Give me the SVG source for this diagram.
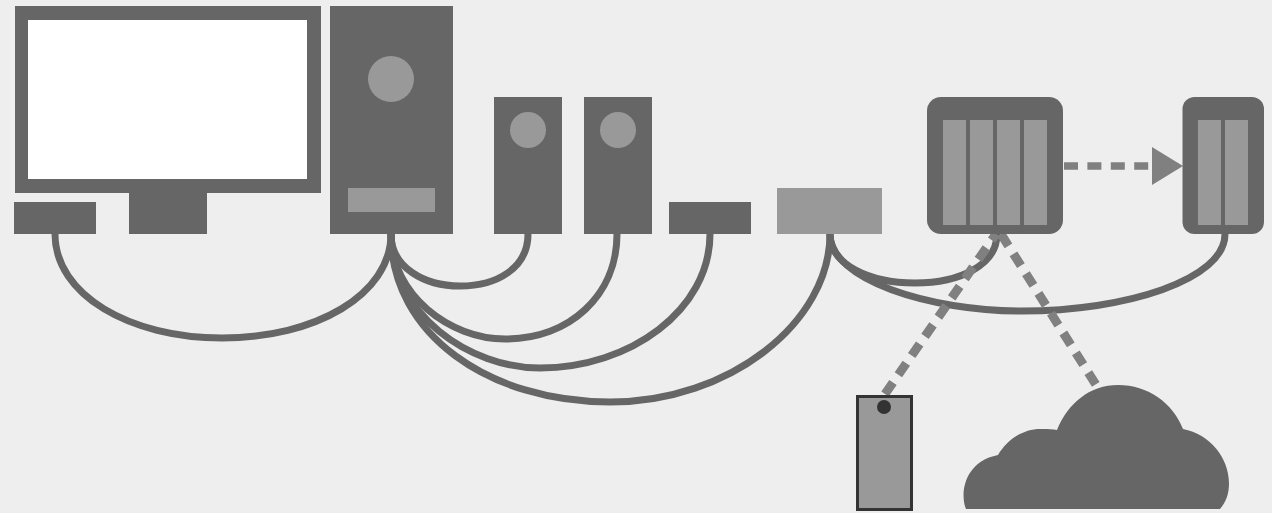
<svg xmlns="http://www.w3.org/2000/svg" width="1272" height="513" viewBox="0 0 1272 513">
<style>
.d{fill:#666}.l{fill:#999}.c{fill:none;stroke:#666;stroke-width:7;stroke-linecap:butt}.k{fill:none;stroke:#808080;stroke-width:9;stroke-dasharray:14 9.400}
</style>
<rect width="1272" height="513" fill="#eee"/>
<g id="connectors">
<path class="c" d="M55 234C55 295 130 338 222 338C315 338 391 295 391 234"/>
<path class="c" d="M391 234C391 268 425 286 460 286C497 286 528 268 528 234"/>
<path class="c" d="M391 234C391 295 450 339 505 339C570 339 617 295 617 234"/>
<path class="c" d="M391 234C391 315 470 368 540 368C630 368 710 310 710 234"/>
<path class="c" d="M391 234C391 335 490 402 610 402C730 402 830 322 830 234"/>
<path class="c" d="M830 234C830 265 870 283 915 283C960 283 997 265 997 234"/>
<path class="c" d="M830 234C830 280 930 311 1022 311C1125 311 1225 280 1225 234"/>
<path class="k" d="M885 394L996 234"/>
<path class="k" d="M1001 234L1098 388"/>
<path class="k" style="stroke-width:7.500" d="M1064 166H1149"/>
<path d="M1152 147L1183 166L1152 185Z" fill="#808080"/>
</g>
<g id="monitor"><rect x="15" y="6" width="306" height="187" class="d"/><rect x="28" y="20" width="279" height="159" fill="#fff"/><rect x="129" y="193" width="78" height="41" class="d"/></g>
<g id="keyboard"><rect x="14" y="202" width="82" height="32" class="d"/></g>
<g id="tower"><rect x="330" y="6" width="123" height="228" class="d"/><circle cx="391" cy="79" r="23" class="l"/><rect x="348" y="188" width="87" height="24" class="l"/></g>
<g id="speaker-left"><rect x="494" y="97" width="68" height="137" class="d"/><circle cx="528" cy="130" r="18" class="l"/></g>
<g id="speaker-right"><rect x="584" y="97" width="68" height="137" class="d"/><circle cx="618" cy="130" r="18" class="l"/></g>
<g id="device"><rect x="669" y="202" width="82" height="32" class="d"/></g>
<g id="hub"><rect x="777" y="188" width="105" height="46" class="l"/></g>
<g id="nas"><rect x="927" y="97" width="136" height="137" rx="14" class="d"/><rect x="943" y="120" width="23" height="105" class="l"/><rect x="970" y="120" width="23" height="105" class="l"/><rect x="997" y="120" width="23" height="105" class="l"/><rect x="1024" y="120" width="23" height="105" class="l"/></g>
<g id="nas-backup"><rect x="1182.500" y="97" width="81.500" height="137" rx="12" class="d"/><rect x="1198" y="120" width="23" height="105" class="l"/><rect x="1225" y="120" width="23" height="105" class="l"/></g>
<g id="phone"><rect x="857.500" y="396.500" width="54" height="113" fill="#999" stroke="#333" stroke-width="3"/><circle cx="884" cy="407" r="7" fill="#333"/></g>
<g id="cloud"><path class="d" d="M966 509C960 495 963 462 998 455C1008 438 1025 428 1043 429C1048 429 1053 429 1057 430C1068 403 1090 385 1118 385C1148 385 1173 403 1183 429C1210 434 1229 458 1229 483C1229 494 1226 502 1220 509Z"/></g>
</svg>
